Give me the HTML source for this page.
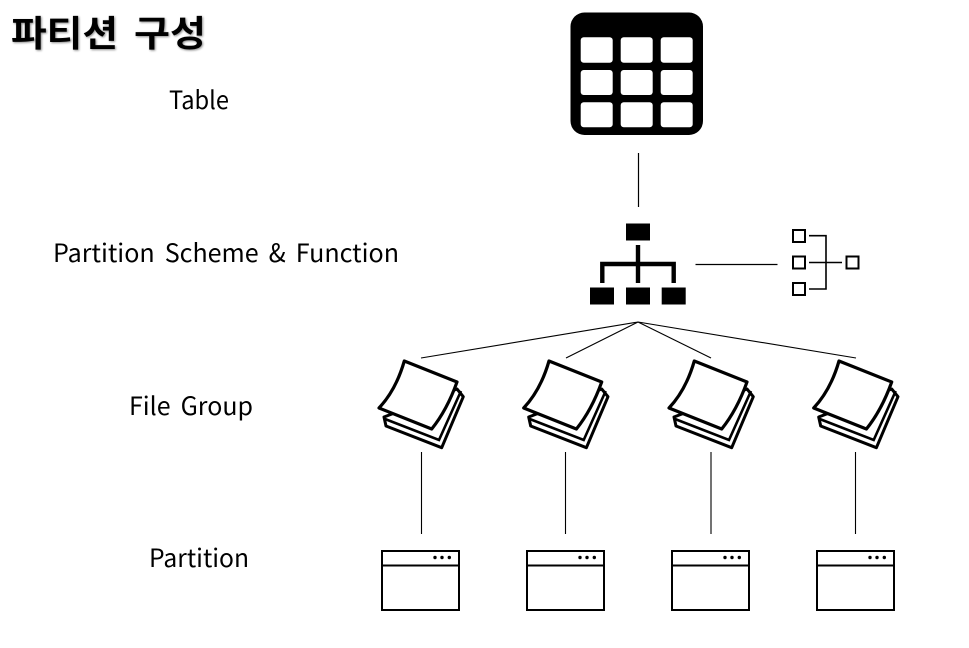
<!DOCTYPE html>
<html lang="ko">
<head>
<meta charset="utf-8">
<style>
html,body{margin:0;padding:0;background:#fff}
svg{display:block}
text{font-family:"Noto Sans CJK KR","Liberation Sans",sans-serif;fill:#000}
.t{filter:drop-shadow(1.5px 1.5px 1px rgba(0,0,0,.45))}
.l{word-spacing:3px}
</style>
</head>
<body>
<svg width="969" height="648" viewBox="0 0 969 648" xmlns="http://www.w3.org/2000/svg">
<defs>
<g id="folder">
  <path d="M384 417 L386 426 L441.7 447.7 L463.3 396.7 L457 389 Z" fill="#fff" stroke="#000" stroke-width="3" stroke-linejoin="round"/>
  <path d="M385 419 L439 440 L461 391" fill="none" stroke="#000" stroke-width="2.6"/>
  <path d="M404.3 361 L457 382 Q447 410 431.7 429 L379 408 Q396 390 404.3 361 Z" fill="#fff" stroke="#000" stroke-width="3.2" stroke-linejoin="round"/>
</g>
<g id="part">
  <rect x="382" y="551" width="77" height="59" fill="#fff" stroke="#000" stroke-width="2"/>
  <line x1="382" y1="565.5" x2="459" y2="565.5" stroke="#000" stroke-width="2"/>
  <circle cx="435" cy="557.5" r="1.7"/><circle cx="442" cy="557.5" r="1.7"/><circle cx="449.3" cy="557.5" r="1.7"/>
</g>
</defs>

<g class="t">
<text x="11" y="46" font-size="36" font-weight="700" textLength="107" lengthAdjust="spacingAndGlyphs">파티션</text>
<text x="134" y="46" font-size="36" font-weight="700" textLength="72" lengthAdjust="spacingAndGlyphs">구성</text>
</g>

<text x="169" y="109" font-size="25" textLength="60" lengthAdjust="spacingAndGlyphs">Table</text>
<text class="l" x="53" y="262" font-size="25" textLength="346" lengthAdjust="spacingAndGlyphs">Partition Scheme &amp; Function</text>
<text class="l" x="129" y="415" font-size="25" textLength="124" lengthAdjust="spacingAndGlyphs">File Group</text>
<text x="149" y="567" font-size="25" textLength="100" lengthAdjust="spacingAndGlyphs">Partition</text>

<!-- table icon -->
<rect x="570.5" y="12.5" width="132.5" height="122.5" rx="14" fill="#000"/>
<g fill="#fff">
  <rect x="580.7" y="37.3" width="32" height="25.4" rx="3"/>
  <rect x="620.7" y="37.3" width="32" height="25.4" rx="3"/>
  <rect x="660.7" y="37.3" width="32" height="25.4" rx="3"/>
  <rect x="580.7" y="70" width="32" height="25" rx="3"/>
  <rect x="620.7" y="70" width="32" height="25" rx="3"/>
  <rect x="660.7" y="70" width="32" height="25" rx="3"/>
  <rect x="580.7" y="102.3" width="32" height="25" rx="3"/>
  <rect x="620.7" y="102.3" width="32" height="25" rx="3"/>
  <rect x="660.7" y="102.3" width="32" height="25" rx="3"/>
</g>
<line x1="638.5" y1="153" x2="638.5" y2="207" stroke="#000" stroke-width="1.2"/>

<!-- hierarchy icon -->
<g fill="#000">
  <rect x="626" y="223.5" width="24" height="17"/>
  <rect x="590" y="287.5" width="24" height="17"/>
  <rect x="626" y="287.5" width="24" height="17"/>
  <rect x="661.7" y="287.5" width="24" height="17"/>
</g>
<path d="M638 245 V283 M602.3 283 V264 H673.7 V283" fill="none" stroke="#000" stroke-width="4.4"/>
<line x1="695.5" y1="264.5" x2="777.5" y2="264.5" stroke="#000" stroke-width="1.2"/>

<!-- small tree icon -->
<g fill="#fff" stroke="#000" stroke-width="2">
  <rect x="793" y="230" width="12" height="12"/>
  <rect x="793" y="256.5" width="12" height="12"/>
  <rect x="793" y="283" width="12" height="12"/>
  <rect x="846.5" y="256.5" width="12" height="12"/>
</g>
<path d="M809 235.7 H826 V289 H809 M809 262.5 H842" fill="none" stroke="#000" stroke-width="1.6"/>

<!-- connectors -->
<g stroke="#000" stroke-width="1.1" fill="none">
  <line x1="638" y1="322" x2="421" y2="358"/>
  <line x1="638" y1="322" x2="566" y2="358"/>
  <line x1="638" y1="322" x2="711" y2="358"/>
  <line x1="638" y1="322" x2="856" y2="358"/>
  <line x1="421.5" y1="452" x2="421.5" y2="534"/>
  <line x1="565.5" y1="452" x2="565.5" y2="534"/>
  <line x1="711" y1="452" x2="711" y2="534"/>
  <line x1="855.5" y1="452" x2="855.5" y2="534"/>
</g>

<use href="#folder"/>
<use href="#folder" x="144.7"/>
<use href="#folder" x="290"/>
<use href="#folder" x="434.7"/>

<use href="#part"/>
<use href="#part" x="145"/>
<use href="#part" x="290"/>
<use href="#part" x="435"/>
</svg>
</body>
</html>
